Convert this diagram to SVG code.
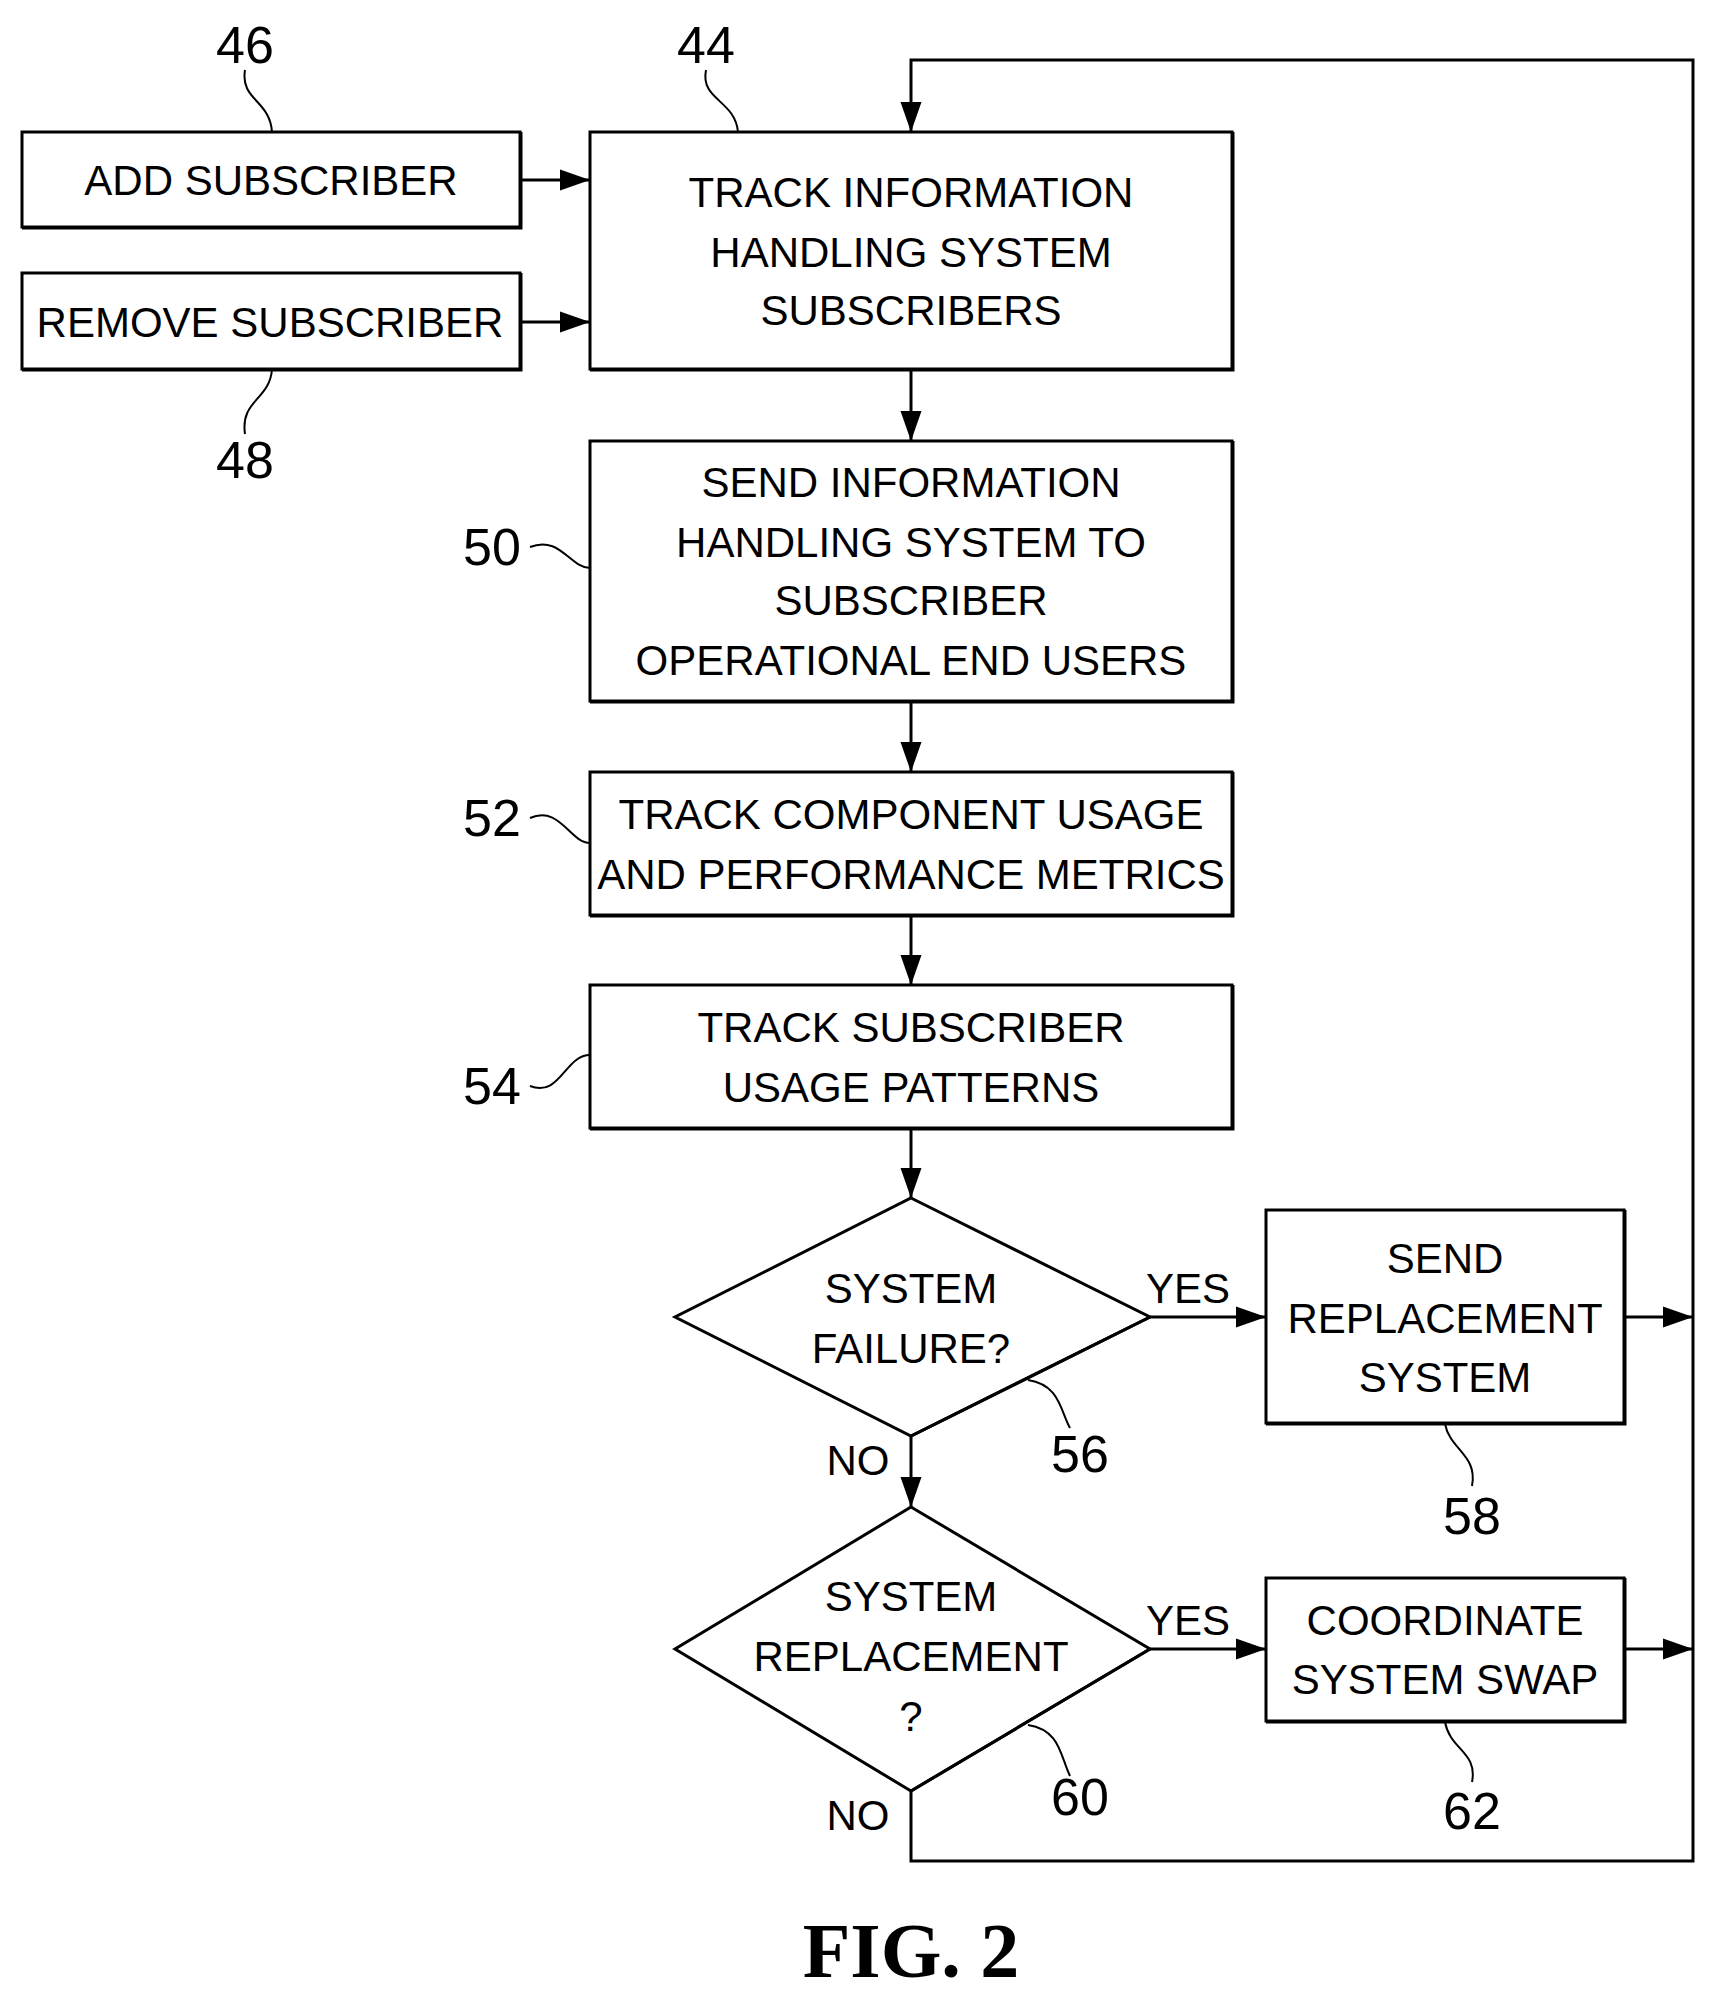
<svg xmlns="http://www.w3.org/2000/svg" width="1709" height="1996" viewBox="0 0 1709 1996">
<style>
.b{fill:#fff;stroke:#000;stroke-width:3}
.t{font-family:"Liberation Sans",Arial,sans-serif;font-size:42px;text-anchor:middle;dominant-baseline:central}
.n{font-family:"Liberation Sans",Arial,sans-serif;font-size:52px;text-anchor:middle;dominant-baseline:central}
.c{fill:none;stroke:#000;stroke-width:3}
.s{fill:none;stroke:#000;stroke-width:2}
</style>
<defs>
<marker id="h" viewBox="0 0 10 10" refX="10" refY="5" markerWidth="10" markerHeight="10" orient="auto"><path d="M0,1.5L10,5L0,8.5z"/></marker></defs>
<g id="connectors">
<path class="c" marker-end="url(#h)" d="M520,180H590"/>
<path class="c" marker-end="url(#h)" d="M520,322H590"/>
<path class="c" marker-end="url(#h)" d="M911,369V441"/>
<path class="c" marker-end="url(#h)" d="M911,701V772"/>
<path class="c" marker-end="url(#h)" d="M911,915V985"/>
<path class="c" marker-end="url(#h)" d="M911,1128V1198"/>
<path class="c" marker-end="url(#h)" d="M911,1436V1507"/>
<path class="c" marker-end="url(#h)" d="M1150,1317H1266"/>
<path class="c" marker-end="url(#h)" d="M1150,1649H1266"/>
<path class="c" marker-end="url(#h)" d="M1624,1317H1693"/>
<path class="c" marker-end="url(#h)" d="M1624,1649H1693"/>
<path class="c" marker-end="url(#h)" d="M911,1791V1861H1693V60H911V132"/>
<text class="t" x="1188" y="1288">YES</text>
<text class="t" x="1188" y="1620">YES</text>
<text class="t" x="858" y="1460">NO</text>
<text class="t" x="858" y="1815">NO</text>
</g>
<g id="n46"><rect class="b" x="22" y="132" width="498" height="95"/><path d="M22,228H521V132" class="c" stroke-width="5"/><text class="t" x="271" y="180">ADD SUBSCRIBER</text><text class="n" x="245" y="45">46</text><path class="s" d="M245,70C240,100 270,100 272,132"/></g>
<g id="n48"><rect class="b" x="22" y="273" width="498" height="96"/><path d="M22,370H521V273" class="c" stroke-width="5"/><text class="t" x="270" y="322">REMOVE SUBSCRIBER</text><text class="n" x="245" y="460">48</text><path class="s" d="M272,369C270,400 240,400 245,434"/></g>
<g id="n44"><rect class="b" x="590" y="132" width="642" height="237"/><path d="M590,370H1233V132" class="c" stroke-width="5"/><text class="t" x="911" y="192">TRACK INFORMATION</text><text class="t" x="911" y="252">HANDLING SYSTEM</text><text class="t" x="911" y="310">SUBSCRIBERS</text><text class="n" x="706" y="45">44</text><path class="s" d="M706,70C700,100 735,100 738,132"/></g>
<g id="n50"><rect class="b" x="590" y="441" width="642" height="260"/><path d="M590,702H1233V441" class="c" stroke-width="5"/><text class="t" x="911" y="482">SEND INFORMATION</text><text class="t" x="911" y="542">HANDLING SYSTEM TO</text><text class="t" x="911" y="600">SUBSCRIBER</text><text class="t" x="911" y="660">OPERATIONAL END USERS</text><text class="n" x="492" y="547">50</text><path class="s" d="M530,547C560,535 570,568 590,568"/></g>
<g id="n52"><rect class="b" x="590" y="772" width="642" height="143"/><path d="M590,916H1233V772" class="c" stroke-width="5"/><text class="t" x="911" y="814">TRACK COMPONENT USAGE</text><text class="t" x="911" y="874">AND PERFORMANCE METRICS</text><text class="n" x="492" y="818">52</text><path class="s" d="M530,818C560,805 570,843 590,843"/></g>
<g id="n54"><rect class="b" x="590" y="985" width="642" height="143"/><path d="M590,1129H1233V985" class="c" stroke-width="5"/><text class="t" x="911" y="1027">TRACK SUBSCRIBER</text><text class="t" x="911" y="1087">USAGE PATTERNS</text><text class="n" x="492" y="1086">54</text><path class="s" d="M530,1086C560,1098 565,1055 590,1055"/></g>
<g id="n56"><path class="b" d="M911,1198L1150,1317L911,1436L675,1317Z"/><path class="c" stroke-width="6" d="M1150,1317L911,1436"/><text class="t" x="911" y="1288">SYSTEM</text><text class="t" x="911" y="1348">FAILURE?</text><text class="n" x="1080" y="1454">56</text><path class="s" d="M1028,1380C1060,1385 1060,1410 1070,1428"/></g>
<g id="n58"><rect class="b" x="1266" y="1210" width="358" height="213"/><path d="M1266,1424H1625V1210" class="c" stroke-width="5"/><text class="t" x="1445" y="1258">SEND</text><text class="t" x="1445" y="1318">REPLACEMENT</text><text class="t" x="1445" y="1377">SYSTEM</text><text class="n" x="1472" y="1516">58</text><path class="s" d="M1445,1424C1450,1450 1478,1455 1472,1486"/></g>
<g id="n60"><path class="b" d="M911,1507L1150,1649L911,1791L675,1649Z"/><path class="c" stroke-width="6" d="M1150,1649L911,1791"/><text class="t" x="911" y="1596">SYSTEM</text><text class="t" x="911" y="1656">REPLACEMENT</text><text class="t" x="911" y="1716">?</text><text class="n" x="1080" y="1797">60</text><path class="s" d="M1028,1725C1060,1730 1060,1755 1070,1776"/></g>
<g id="n62"><rect class="b" x="1266" y="1578" width="358" height="143"/><path d="M1266,1722H1625V1578" class="c" stroke-width="5"/><text class="t" x="1445" y="1620">COORDINATE</text><text class="t" x="1445" y="1679">SYSTEM SWAP</text><text class="n" x="1472" y="1811">62</text><path class="s" d="M1445,1722C1450,1750 1478,1752 1472,1782"/></g>
<text x="911" y="1977" font-family="Liberation Serif,serif" font-size="78" font-weight="bold" text-anchor="middle">FIG. 2</text>
</svg>
